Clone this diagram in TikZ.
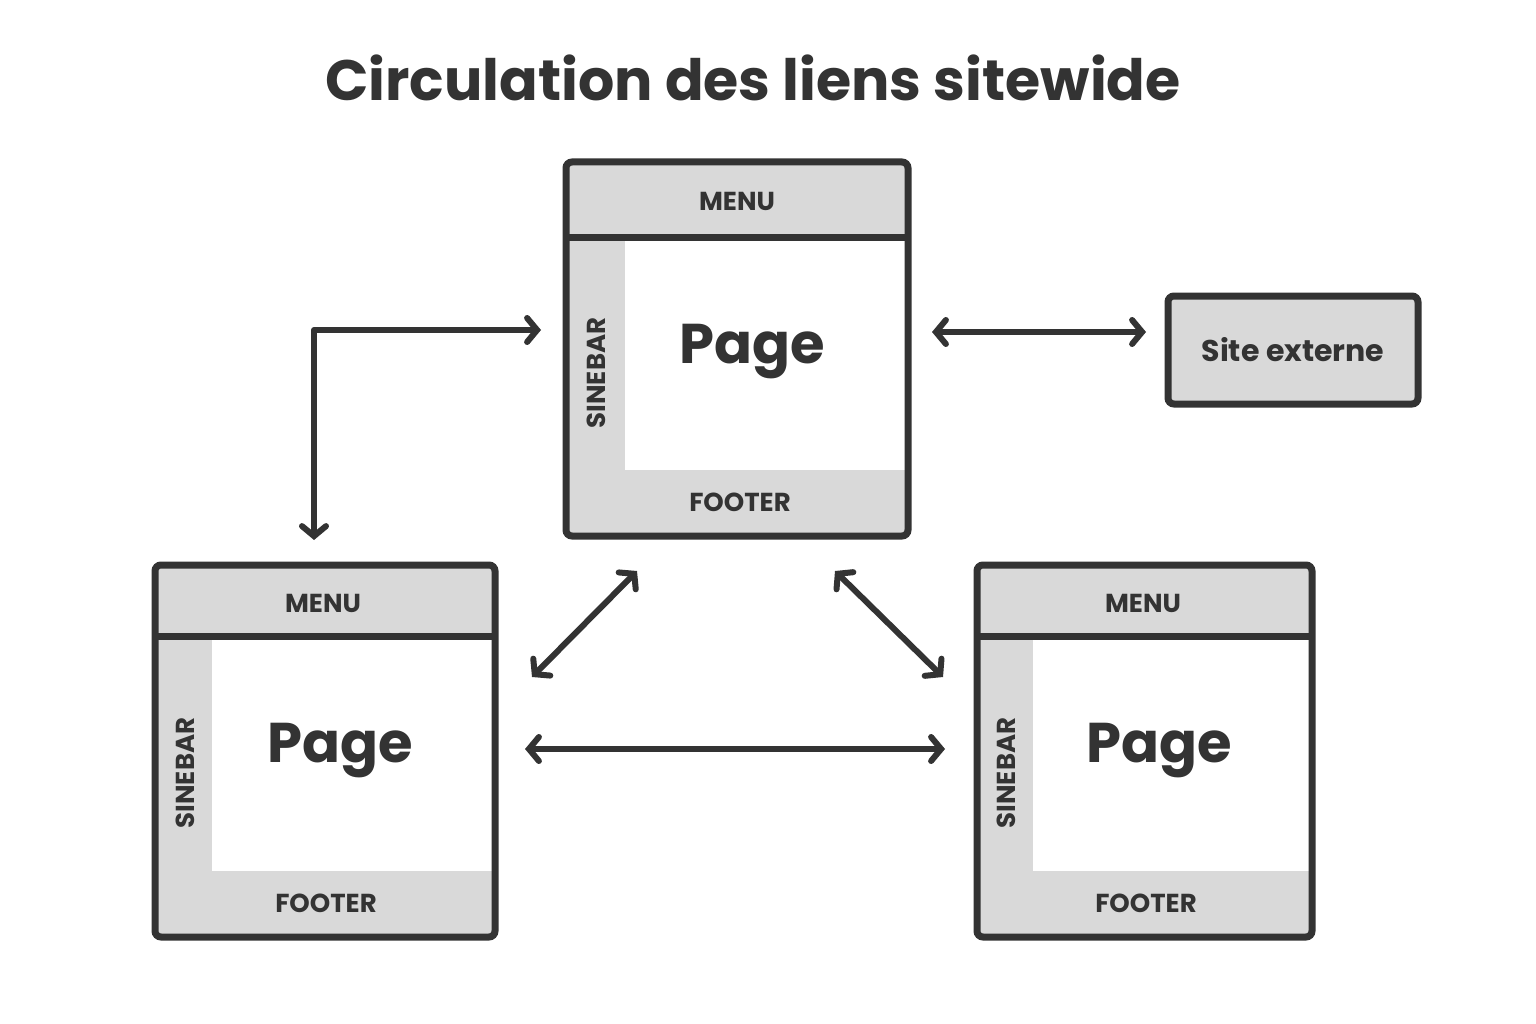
\documentclass[tikz,border=0pt]{standalone}
\usepackage{fontspec}
\setmainfont{Poppins}
\usetikzlibrary{arrows.meta}
\definecolor{ink}{HTML}{333333}
\definecolor{band}{HTML}{D9D9D9}
\begin{document}
\begin{tikzpicture}[x=1pt,y=-1pt,
  frame/.style={draw=ink,line width=7pt,rounded corners=6pt},
  lab/.style={text=ink,font=\fontsize{26}{26}\selectfont\bfseries},
  pg/.style={text=ink,font=\fontsize{56}{56}\selectfont\bfseries},
  conn/.style={draw=ink,line width=6pt,line cap=round,line join=round,{Straight Barb[length=10pt,width=24pt,line width=6pt,line cap=round]}-{Straight Barb[length=10pt,width=24pt,line width=6pt,line cap=round]}}]
\useasboundingbox[fill=white] (0,0) rectangle (1536,1024);
\node[text=ink,font=\fontsize{57}{57}\selectfont\bfseries] (title) at (753,78) {Circulation des liens sitewide};
\foreach \n/\xa/\ya/\xb/\yb/\mh/\sw/\fh in {t/566/162/908/536/76/59/66, l/155/565/495/937/71/57/66, r/977/565/1312/937/71/56/66}{
  \fill[band] (\xa,\ya) rectangle (\xb,\yb);
  \fill[white] (\xa+\sw,\ya+\mh) rectangle (\xb-3,\yb-\fh);
  \draw[ink,line width=7pt] (\xa,\ya+\mh) -- (\xb,\ya+\mh);
  \draw[frame] (\xa,\ya) rectangle (\xb,\yb);
}
\node[lab] (m1) at (737,201) {MENU};
\node[lab,rotate=90] (s1) at (596,373) {SINEBAR};
\node[pg] (p1) at (752,352) {Page};
\node[lab] (f1) at (740,502) {FOOTER};
\node[lab] (m2) at (323,603) {MENU};
\node[lab,rotate=90] (s2) at (185,773) {SINEBAR};
\node[pg] (p2) at (340,751) {Page};
\node[lab] (f2) at (326,903) {FOOTER};
\node[lab] (m3) at (1143,603) {MENU};
\node[lab,rotate=90] (s3) at (1006,773) {SINEBAR};
\node[pg] (p3) at (1159,751) {Page};
\node[lab] (f3) at (1146,903) {FOOTER};
\node[frame,fill=band,minimum width=250pt,minimum height=108pt,lab,font=\fontsize{30}{30}\selectfont\bfseries] (ext) at (1293,350) {Site externe};
\coordinate (a1) at (541,330); \coordinate (a2) at (314,330); \coordinate (a3) at (314,540);
\draw[conn] (a1) -- (a2) -- (a3);
\coordinate (b1) at (932,332); \coordinate (b2) at (1146,332);
\draw[conn] (b1) -- (b2);
\coordinate (c1) at (637,571); \coordinate (c2) at (532,677);
\draw[conn] (c1) -- (c2);
\coordinate (d1) at (835,571); \coordinate (d2) at (943,677);
\draw[conn] (d1) -- (d2);
\coordinate (e1) at (525,749); \coordinate (e2) at (945,749);
\draw[conn] (e1) -- (e2);
\end{tikzpicture}
\end{document}
